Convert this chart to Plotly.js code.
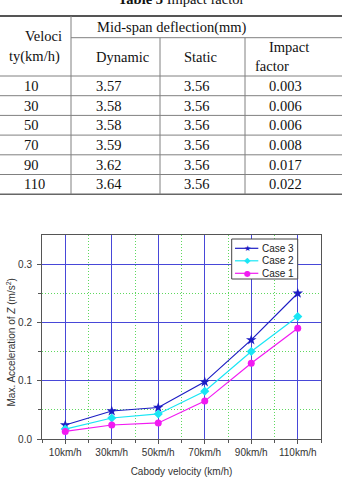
<!DOCTYPE html>
<html>
<head>
<meta charset="utf-8">
<script src="https://cdn.plot.ly/plotly-3.0.1.min.js"></script>
<style>
html,body{margin:0;padding:0;background:#fff;}
#chart{width:342px;height:479px;}
</style>
</head>
<body>
<div id="chart"></div>
<script>
// ---- Table data ----
const tableTitle = "<b>Table 3</b> Impact factor";
const velocity = ["10", "30", "50", "70", "90", "110"];
const dynamicDefl = ["3.57", "3.58", "3.58", "3.59", "3.62", "3.64"];
const staticDefl = ["3.56", "3.56", "3.56", "3.56", "3.56", "3.56"];
const impactFactor = ["0.003", "0.006", "0.006", "0.008", "0.017", "0.022"];

// ---- Chart data ----
const categories = ["10km/h", "30km/h", "50km/h", "70km/h", "90km/h", "110km/h"];
const seriesNames = ["Case 3", "Case 2", "Case 1"];
const case3 = [0.024, 0.048, 0.054, 0.098, 0.170, 0.250];
const case2 = [0.017, 0.036, 0.043, 0.082, 0.150, 0.210];
const case1 = [0.013, 0.024, 0.0275, 0.065, 0.130, 0.190];
const yTicks = [0.0, 0.1, 0.2, 0.3];

// ---- Styles / layout geometry (pixels) ----
const W = 342, H = 479;
const M = {l: 42, r: 21, t: 235, b: 40};
const PW = W - M.l - M.r, PH = H - M.t - M.b;
const px = x => (x - M.l) / PW;
const py = y => (H - M.b - y) / PH;

const colors = ["#1c1cc4", "#19e6f5", "#f21af2"];
const symbols = ["star", "diamond", "circle"];
const glyphs = ["\u2605", "\u25C6", "\u25CF"];
const msize = [8, 7, 7];
const serif = "'Liberation Serif', 'Times New Roman', serif";
const sans = "'Liberation Sans', Arial, sans-serif";

const xIdx = categories.map((c, i) => i);
const seriesVals = [case3, case2, case1];

const traces = seriesVals.map((vals, k) => ({
  type: "scatter", mode: "lines+markers",
  x: xIdx, y: vals, name: seriesNames[k],
  line: {color: colors[k], width: 1.2},
  marker: {color: colors[k], symbol: symbols[k], size: msize[k]},
  showlegend: false
}));

const shapes = [];
const annotations = [];
const lineC = "#808080";
function hline(y, x0, x1, w, c) {
  shapes.push({type: "line", xref: "paper", yref: "paper", x0: px(x0), x1: px(x1), y0: py(y), y1: py(y), line: {color: c || lineC, width: w || 1}});
}
function vline(x, y0, y1, w, c) {
  shapes.push({type: "line", xref: "paper", yref: "paper", x0: px(x), x1: px(x), y0: py(y0), y1: py(y1), line: {color: c || lineC, width: w || 1}});
}
function text(t, x, y, anchor, size, font) {
  annotations.push({text: t, xref: "paper", yref: "paper", x: px(x), y: py(y), xanchor: anchor || "left", yanchor: "middle",
    showarrow: false, borderpad: 0, font: {family: font || serif, size: size || 14.5, color: "#111"}});
}

// table geometry
const tTop = 16, tH1 = 37.7, tHead = 76, rowH = 19.7;
const colX = [71, 160, 245];
const tBot = tHead + rowH * velocity.length;
hline(tTop, 0, W, 2, "#555");
hline(tH1, colX[0], W);
hline(tHead, 0, W);
velocity.forEach((v, i) => {
  const yb = tHead + rowH * (i + 1);
  if (i < velocity.length - 1) hline(yb, 0, W); else hline(yb, 0, W, 1.6, "#666");
});
vline(colX[0], tTop, tBot);
vline(colX[1], tH1, tBot);
vline(colX[2], tH1, tBot);

text(tableTitle, 181, -1.5, "center", 14.5);
text("Veloci", 43, 36, "center");
text("ty(km/h)", 34, 56.7, "center");
text("Mid-span deflection(mm)", 171.5, 27.3, "center");
text("Dynamic", 95, 56.7, "left");
text("Static", 183, 56.7, "left");
text("Impact", 289, 47.3, "center");
text("factor", 254, 65.7, "left");
velocity.forEach((v, i) => {
  const yc = tHead + rowH * i + rowH / 2;
  text(v, 23, yc, "left");
  text(dynamicDefl[i], 95, yc, "left");
  text(staticDefl[i], 183, yc, "left");
  text(impactFactor[i], 285, yc, "center");
});

// y axis title placed as in the reference
annotations.push({text: "Max. Acceleration of <i>Z</i> (m/s<sup>2</sup>)", xref: "paper", yref: "paper",
  x: px(10.5), y: py(343), xanchor: "center", yanchor: "middle", textangle: -90, showarrow: false, borderpad: 0,
  font: {family: sans, size: 10, color: "#333"}});

// custom legend (compact, like the reference)
shapes.push({type: "rect", xref: "paper", yref: "paper", x0: px(231.7), x1: px(297.7), y0: py(239), y1: py(279),
  line: {color: "#444", width: 1}, fillcolor: "#fff", layer: "above"});
seriesNames.forEach((n, k) => {
  const yc = 248.3 + k * 12.5;
  shapes.push({type: "line", xref: "paper", yref: "paper", x0: px(235), x1: px(258.3), y0: py(yc), y1: py(yc),
    line: {color: colors[k], width: 1.2}, layer: "above"});
  annotations.push({text: glyphs[k], xref: "paper", yref: "paper", x: px(247), y: py(yc), xanchor: "center", yanchor: "middle",
    showarrow: false, borderpad: 0, font: {family: "DejaVu Sans", size: 8, color: colors[k]}});
  annotations.push({text: n, xref: "paper", yref: "paper", x: px(261), y: py(yc), xanchor: "left", yanchor: "middle",
    showarrow: false, borderpad: 0, font: {family: sans, size: 10, color: "#222"}});
});

const minorGrid = {showgrid: true, gridcolor: "#5ed85e", griddash: "1px,2px", gridwidth: 1,
  ticks: "outside", ticklen: 3, tickcolor: "#555"};

const layout = {
  width: W, height: H,
  margin: M,
  paper_bgcolor: "#fff", plot_bgcolor: "#fff",
  showlegend: false,
  font: {family: sans, size: 10, color: "#333"},
  xaxis: {
    range: [-0.5, categories.length - 0.5],
    tickmode: "array", tickvals: xIdx, ticktext: categories,
    showgrid: true, gridcolor: "#4848d8", gridwidth: 1,
    zeroline: false,
    showline: true, linecolor: "#555", linewidth: 1, mirror: true,
    ticks: "outside", ticklen: 4, tickcolor: "#555",
    minor: Object.assign({tickmode: "array",
      tickvals: xIdx.slice(0, -1).map(i => i + 0.5).concat([-0.5, categories.length - 0.5])}, minorGrid),
    tickfont: {size: 10, color: "#333"},
    title: {text: "Cabody velocity (km/h)", font: {size: 10, color: "#333"}, standoff: 10}
  },
  yaxis: {
    range: [0, 0.35],
    tickmode: "array", tickvals: yTicks, ticktext: yTicks.map(v => v.toFixed(1)),
    showgrid: true, gridcolor: "#4848d8", gridwidth: 1,
    zeroline: false,
    showline: true, linecolor: "#555", linewidth: 1, mirror: true,
    ticks: "outside", ticklen: 4, tickcolor: "#555", ticklabelstandoff: 3,
    minor: Object.assign({tickmode: "array", tickvals: [0.05, 0.15, 0.25]}, minorGrid),
    tickfont: {size: 10, color: "#333"}
  },
  shapes: shapes,
  annotations: annotations
};

Plotly.newPlot("chart", traces, layout, {staticPlot: true, displayModeBar: false});
</script>
</body>
</html>
